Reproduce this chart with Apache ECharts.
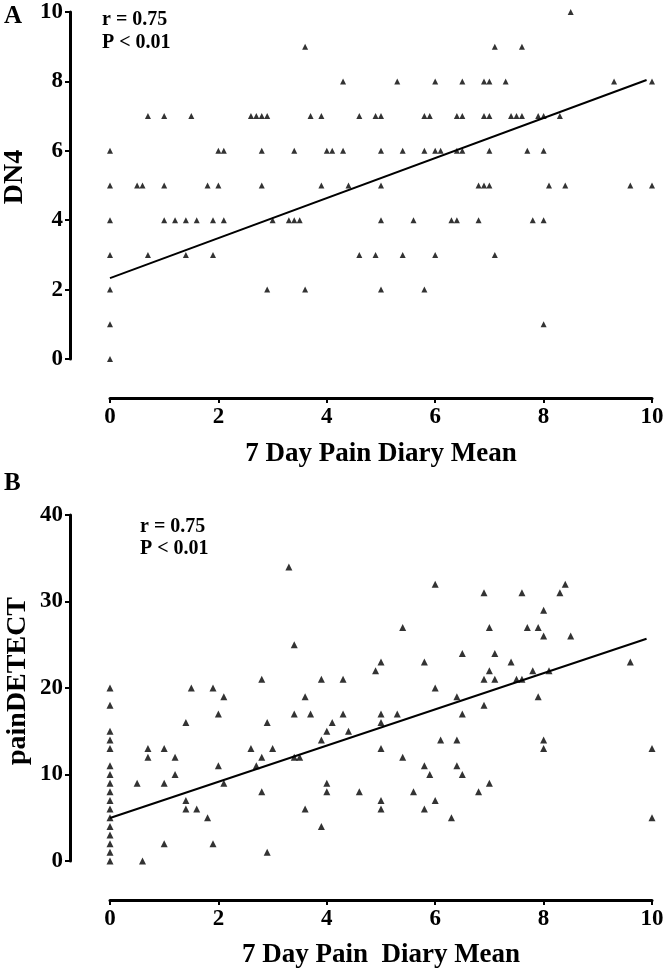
<!DOCTYPE html>
<html>
<head>
<meta charset="utf-8">
<script src="https://cdn.jsdelivr.net/npm/echarts@6/dist/echarts.min.js"></script>
<style>
html,body{margin:0;padding:0;background:#fff;}
#c{width:667px;height:970px;}
</style>
</head>
<body>
<div id="c"></div>
<script>
// ---- Panel A: DN4 vs 7 Day Pain Diary Mean ----
const dn4Rows = [10, 9, 8, 7, 6, 5, 4, 3, 2, 1, 0];
const dn4DiaryX = [
  [8.5],
  [3.6, 7.1, 7.6],
  [4.3, 5.3, 6.0, 6.5, 6.9, 7.0, 7.3, 9.3, 10.0],
  [0.7, 1.0, 1.5, 2.6, 2.7, 2.8, 2.9, 3.7, 3.9, 4.6, 4.9, 5.0, 5.8, 5.9, 6.4, 6.5, 6.9, 7.0, 7.4, 7.5, 7.6, 7.9, 8.0, 8.3],
  [0, 2.0, 2.1, 2.8, 3.4, 4.0, 4.1, 4.3, 5.0, 5.4, 5.8, 6.0, 6.1, 6.4, 6.5, 7.0, 7.7, 8.0],
  [0, 0.5, 0.6, 1.0, 1.8, 2.0, 2.8, 3.9, 4.4, 5.0, 6.8, 6.9, 7.0, 8.1, 8.4, 9.6, 10.0],
  [0, 1.0, 1.2, 1.4, 1.6, 1.9, 2.1, 3.0, 3.3, 3.4, 3.5, 5.0, 5.6, 6.3, 6.4, 6.8, 7.8, 8.0],
  [0, 0.7, 1.4, 1.9, 4.6, 4.9, 5.4, 6.0, 7.1],
  [0, 2.9, 3.6, 5.0, 5.8],
  [0, 8.0],
  [0]
];
const dn4FitX = [0, 9.9];
const dn4FitY = [2.33, 8.04];

// ---- Panel B: painDETECT vs 7 Day Pain Diary Mean ----
const pdRows = [34, 32, 31, 29, 27, 26, 25, 24, 23, 22, 21, 20, 19, 18, 17, 16, 15, 14, 13, 12, 11, 10, 9, 8, 7, 6, 5, 4, 3, 2, 1, 0];
const pdDiaryX = [
  [3.3],
  [6.0, 8.4],
  [6.9, 7.6, 8.3],
  [8.0],
  [5.4, 7.0, 7.7, 7.9],
  [8.0, 8.5],
  [3.4],
  [6.5, 7.1],
  [5.0, 5.8, 7.4, 9.6],
  [4.9, 7.0, 7.8, 8.1],
  [2.8, 3.9, 4.3, 6.9, 7.1, 7.5, 7.6],
  [0, 1.5, 1.9, 6.0],
  [2.1, 3.6, 6.4, 7.9],
  [0, 6.9],
  [2.0, 3.4, 3.7, 4.3, 5.0, 5.3, 6.5],
  [1.4, 2.9, 4.1, 5.0],
  [0, 4.0, 4.4],
  [0, 3.9, 6.1, 6.4, 8.0],
  [0, 0.7, 1.0, 2.6, 3.0, 5.0, 8.0, 10.0],
  [0.7, 1.2, 2.8, 3.4, 3.5, 5.4],
  [0, 2.0, 2.7, 5.8, 6.4],
  [0, 1.2, 5.9, 6.5],
  [0, 0.5, 1.0, 2.1, 4.0, 7.0],
  [0, 2.8, 4.0, 4.6, 5.6, 6.8],
  [0, 1.4, 5.0, 6.0],
  [0, 1.4, 1.6, 3.6, 5.0, 5.8],
  [0, 1.8, 6.3, 10.0],
  [0, 3.9],
  [0],
  [0, 1.0, 1.9],
  [0, 2.9],
  [0, 0.6]
];
const pdFitX = [0, 9.9];
const pdFitY = [4.97, 25.7];

const xTitleA = '7 Day Pain Diary Mean';
const xTitleB = '7 Day Pain  Diary Mean';
const yTitleA = 'DN4';
const yTitleB = 'painDETECT';
const statR = 'r = 0.75';
const statP = 'P < 0.01';

function rowsToPoints(rows, xs) {
  const out = [];
  rows.forEach((y, i) => xs[i].forEach(x => out.push([x, y])));
  return out;
}
function pairs(xs, ys) { return xs.map((x, i) => [x, ys[i]]); }

const FONT = '"Liberation Serif", "Times New Roman", serif';

function xAxisCfg(gridIndex, name, gap) {
  return {
    type: 'value', gridIndex, min: 0, max: 10, interval: 2, offset: 39,
    name, nameLocation: 'middle', nameGap: gap,
    nameTextStyle: { fontFamily: FONT, fontWeight: 'bold', fontSize: 27, color: '#000' },
    axisLine: { show: true, onZero: false, lineStyle: { color: '#000', width: 3 } },
    axisTick: { show: true, length: 5, lineStyle: { color: '#000', width: 2 } },
    axisLabel: { fontFamily: FONT, fontWeight: 'bold', fontSize: 23, color: '#000', margin: 8 },
    splitLine: { show: false }
  };
}
function yAxisCfg(gridIndex, max, interval) {
  return {
    type: 'value', gridIndex, min: 0, max, interval, offset: 40,
    axisLine: { show: true, onZero: false, lineStyle: { color: '#000', width: 3 } },
    axisTick: { show: true, length: 5, lineStyle: { color: '#000', width: 2 } },
    axisLabel: { fontFamily: FONT, fontWeight: 'bold', fontSize: 23, color: '#000', margin: 7 },
    splitLine: { show: false }
  };
}
function txt(x, y, text, size, align, rot) {
  return {
    type: 'text', x, y, rotation: rot || 0,
    style: { text, fontFamily: FONT, fontWeight: 'bold', fontSize: size, fill: '#000',
             textAlign: align || 'left', textVerticalAlign: 'middle' }
  };
}

const chart = echarts.init(document.getElementById('c'), null, { renderer: 'canvas' });
chart.setOption({
  animation: false,
  backgroundColor: '#fff',
  grid: [
    { left: 110, right: 15, top: 12, height: 347 },
    { left: 110, right: 15, top: 515, height: 346 }
  ],
  xAxis: [xAxisCfg(0, xTitleA, 43), xAxisCfg(1, xTitleB, 42)],
  yAxis: [yAxisCfg(0, 10, 2), yAxisCfg(1, 40, 10)],
  graphic: [
    txt(4, 17, 'A', 25),
    txt(102, 20, statR, 20),
    txt(102, 43, statP, 20),
    txt(15, 177, yTitleA, 28, 'center', Math.PI / 2),
    txt(4, 484, 'B', 25),
    txt(140, 527, statR, 20),
    txt(140, 549, statP, 20),
    txt(18, 681, yTitleB, 28, 'center', Math.PI / 2)
  ],
  series: [
    { type: 'scatter', xAxisIndex: 0, yAxisIndex: 0, symbol: 'triangle', symbolSize: 6,
      itemStyle: { color: '#000' }, data: rowsToPoints(dn4Rows, dn4DiaryX) },
    { type: 'line', xAxisIndex: 0, yAxisIndex: 0, showSymbol: false, symbol: 'none',
      lineStyle: { color: '#000', width: 2 }, data: pairs(dn4FitX, dn4FitY) },
    { type: 'scatter', xAxisIndex: 1, yAxisIndex: 1, symbol: 'triangle', symbolSize: 7,
      itemStyle: { color: '#000' }, data: rowsToPoints(pdRows, pdDiaryX) },
    { type: 'line', xAxisIndex: 1, yAxisIndex: 1, showSymbol: false, symbol: 'none',
      lineStyle: { color: '#000', width: 2 }, data: pairs(pdFitX, pdFitY) }
  ]
});
</script>
</body>
</html>
